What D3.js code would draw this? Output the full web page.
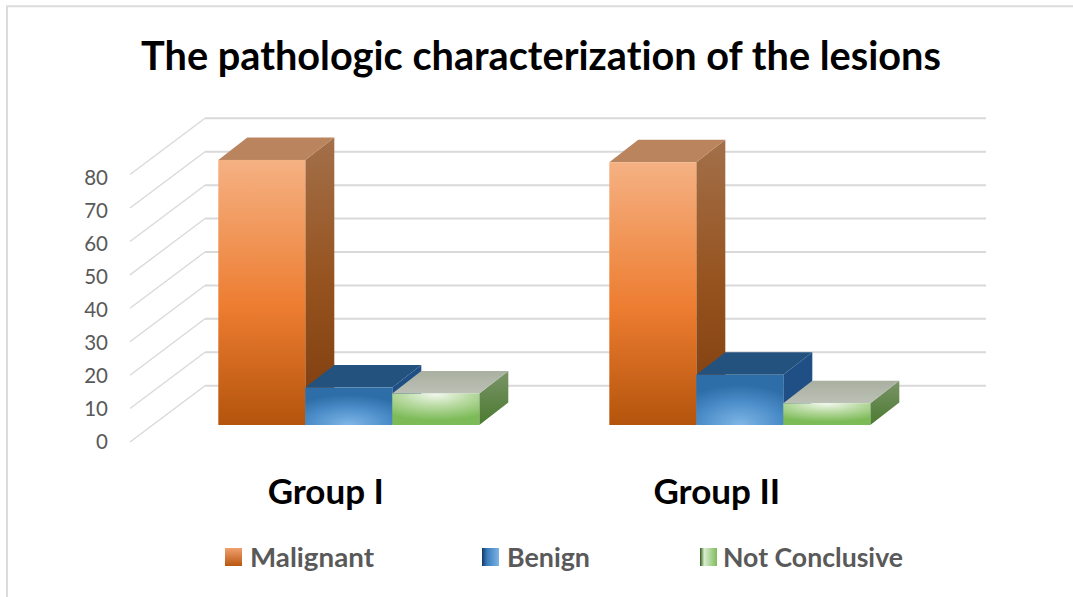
<!DOCTYPE html>
<html><head><meta charset="utf-8">
<script src="https://cdn.jsdelivr.net/npm/d3@7/dist/d3.min.js"></script>
<style>html,body{margin:0;padding:0;background:#fff}svg{display:block}text{font-family:Lato,"Open Sans",sans-serif;font-variant-ligatures:none}</style>
</head><body><svg id="c" width="1073" height="597"></svg>
<script>
const titleText = "The pathologic characterization of the lesions";
const groups = ["Group I", "Group II"];
const seriesNames = ["Malignant", "Benign", "Not Conclusive"];
const malignant = [79.3, 78.6];
const benign = [11.2, 15];
const notConclusive = [9.4, 6.5];
const yTicks = [0, 10, 20, 30, 40, 50, 60, 70, 80];

const seriesValues = [malignant, benign, notConclusive];
const svg = d3.select("#c");
const defs = svg.append("defs");

// scales: back wall, bar plane, front edge, tick labels
const yBack = d3.scaleLinear().domain([0, 80]).range([385.7, 118.3]);
const yBar = d3.scaleLinear().domain([0, 80]).range([425, 157.6]);
const yFront = d3.scaleLinear().domain([0, 80]).range([442, 174.6]);
const yLabel = d3.scaleLinear().domain([0, 80]).range([444, 180]);
const x0 = d3.scalePoint().domain(groups).range([218.3, 609.3]);
const xSeries = d3.scaleBand().domain(seriesNames).range([0, 261]).padding(0);
const depthX = 29, depthY = 22.5;

// frame
svg.append("path").attr("d", "M7 597V6.3H1073").attr("fill", "none").attr("stroke", "#dcdcdc").attr("stroke-width", 2);

// gridlines
const grid = svg.append("g").attr("fill", "none").attr("stroke", "#d9d9d9");
yTicks.forEach(t => {
  grid.append("path").attr("d", `M130 ${yFront(t)}L205 ${yBack(t)}`).attr("stroke-width", 1.3);
  grid.append("path").attr("d", `M205 ${yBack(t)}H986`).attr("stroke-width", 2);
});

// axis labels
svg.append("g").selectAll("text").data(yTicks).join("text")
  .attr("x", 108).attr("y", d => yLabel(d)).attr("text-anchor", "end").attr("dominant-baseline", "middle")
  .attr("font-size", 20.5).attr("fill", "#595959").text(d => d);

// gradients
function lin(id, stops, x1=0, y1=0, x2=0, y2=1) {
  const g = defs.append("linearGradient").attr("id", id).attr("x1", x1).attr("y1", y1).attr("x2", x2).attr("y2", y2);
  stops.forEach(s => g.append("stop").attr("offset", s[0]).attr("stop-color", s[1]));
}
function rad(id, cy, r, stops) {
  const g = defs.append("radialGradient").attr("id", id).attr("cx", .5).attr("cy", cy).attr("r", r);
  stops.forEach(s => g.append("stop").attr("offset", s[0]).attr("stop-color", s[1]));
}
lin("oF", [[0, "#f5b183"], [.55, "#ed7d31"], [1, "#b4540c"]]);
lin("oS", [[0, "#a3704a"], [.5, "#96531f"], [1, "#7d3c0e"]]);
rad("bF", 1, .8, [[0, "#7fb6e6"], [.6, "#4a8cc8"], [1, "#2e6ea8"]]);
rad("gF", 0, .85, [[0, "#f4f9f0"], [.45, "#bcdca6"], [1, "#7dbb58"]]);
lin("gT", [[0, "#a9b0a0"], [1, "#bcc0b6"]]);
lin("gS", [[0, "#7b9468"], [1, "#4a7a30"]]);
const tops = ["#b9845e", "#23527f", "url(#gT)"];
const sides = ["url(#oS)", "#1f4f84", "url(#gS)"];
const fronts = ["url(#oF)", "url(#bF)", "url(#gF)"];

// bars
groups.forEach((g, gi) => {
  const bars = svg.append("g").attr("class", "group");
  seriesNames.forEach((s, si) => {
    const v = seriesValues[si][gi];
    const barW = xSeries.bandwidth();
    const x = x0(g) + xSeries(s), y = yBar(v), y1 = yBar(0);
    bars.append("path").attr("d", `M${x + barW} ${y}l${depthX} ${-depthY}V${y1 - depthY}l${-depthX} ${depthY}Z`).attr("fill", sides[si]);
    bars.append("path").attr("d", `M${x} ${y}l${depthX} ${-depthY}h${barW}l${-depthX} ${depthY}Z`).attr("fill", tops[si]);
    bars.append("rect").attr("x", x).attr("y", y).attr("width", barW).attr("height", y1 - y).attr("fill", fronts[si]);
  });
  svg.append("text").attr("x", x0(g) + 107.5).attr("y", 503.5).attr("text-anchor", "middle")
    .attr("font-size", 35).attr("font-weight", 700).attr("fill", "#000").text(g);
});

// title
svg.append("text").attr("x", 541).attr("y", 70).attr("text-anchor", "middle")
  .attr("font-size", 39.7).attr("font-weight", 700).attr("fill", "#000").text(titleText);

// legend
lin("lO", [[0, "#f0a070"], [1, "#b9560f"]]);
lin("lB", [[0, "#123a66"], [.3, "#3b7cbc"], [1, "#7cb4e4"]], 0, 0, 1, 0);
lin("lG", [[0, "#2f5a18"], [.25, "#d9ecd0"], [1, "#7fbc5b"]], 0, 0, 1, 0);
const legendX = [225, 482, 700];
const legendTextX = [250, 507, 723];
const legendTextW = [124, 83, 180];
const legendFill = ["url(#lO)", "url(#lB)", "url(#lG)"];
seriesNames.forEach((s, i) => {
  svg.append("rect").attr("x", legendX[i]).attr("y", 548).attr("width", 17).attr("height", 18).attr("fill", legendFill[i]);
  svg.append("text").attr("x", legendTextX[i]).attr("y", 567).attr("font-size", 27.2).attr("font-weight", 700).attr("fill", "#595959")
    .attr("textLength", legendTextW[i]).attr("lengthAdjust", "spacingAndGlyphs").text(s);
});
</script></body></html>
